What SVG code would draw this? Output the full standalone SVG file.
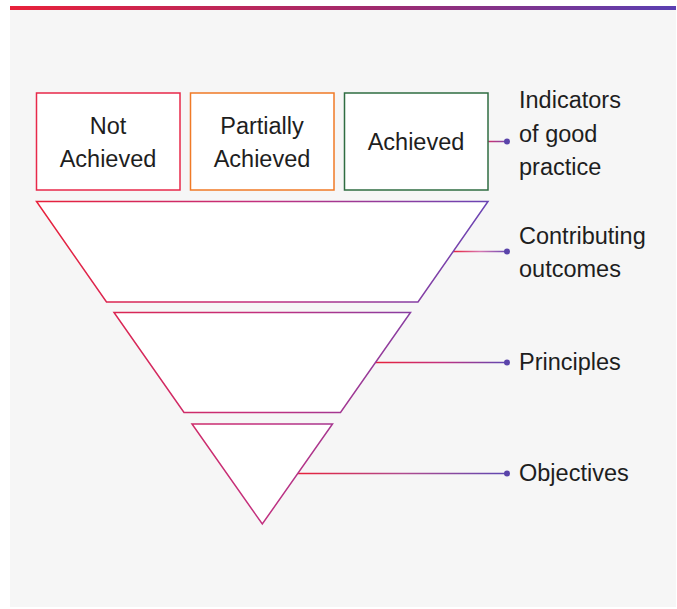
<svg xmlns="http://www.w3.org/2000/svg" width="677" height="609" viewBox="0 0 677 609">
  <defs>
    <linearGradient id="topbar" x1="10" y1="0" x2="676" y2="0" gradientUnits="userSpaceOnUse">
      <stop offset="0" stop-color="#e8213a"/>
      <stop offset="0.55" stop-color="#a02a6e"/>
      <stop offset="1" stop-color="#5a3fb2"/>
    </linearGradient>
    <linearGradient id="shapeStroke" x1="36" y1="0" x2="488" y2="0" gradientUnits="userSpaceOnUse">
      <stop offset="0" stop-color="#e8213a"/>
      <stop offset="0.5" stop-color="#c2307f"/>
      <stop offset="1" stop-color="#6a45b4"/>
    </linearGradient>
    <linearGradient id="c0" x1="488" y1="0" x2="507" y2="0" gradientUnits="userSpaceOnUse">
      <stop offset="0" stop-color="#d0306e"/>
      <stop offset="1" stop-color="#7a4ab0"/>
    </linearGradient>
    <linearGradient id="c1" x1="453" y1="0" x2="507" y2="0" gradientUnits="userSpaceOnUse">
      <stop offset="0" stop-color="#e8213a"/>
      <stop offset="0.5" stop-color="#d877b0"/>
      <stop offset="1" stop-color="#6a4ab4"/>
    </linearGradient>
    <linearGradient id="c2" x1="376" y1="0" x2="507" y2="0" gradientUnits="userSpaceOnUse">
      <stop offset="0" stop-color="#e8213a"/>
      <stop offset="0.5" stop-color="#c2307f"/>
      <stop offset="1" stop-color="#5e48b2"/>
    </linearGradient>
    <linearGradient id="c3" x1="298" y1="0" x2="507" y2="0" gradientUnits="userSpaceOnUse">
      <stop offset="0" stop-color="#e8213a"/>
      <stop offset="0.5" stop-color="#b04a8e"/>
      <stop offset="1" stop-color="#5e48b2"/>
    </linearGradient>
    <style>
      .box { fill: #ffffff; stroke-width: 1.5; }
      .layer { fill: #ffffff; stroke: url(#shapeStroke); stroke-width: 1.5; stroke-linejoin: miter; }
      .t { font-family: "Liberation Sans", Arial, Helvetica, sans-serif; font-size: 23.5px; fill: #1e1e1e; }
      .c { text-anchor: middle; }
      .dot { fill: #5a44aa; }
      .conn { stroke-width: 1.5; fill: none; }
    </style>
  </defs>

  <rect x="0" y="0" width="677" height="609" fill="#ffffff"/>
  <rect x="10" y="10" width="666" height="597" fill="#f6f6f6"/>
  <rect x="10" y="6" width="666" height="4" fill="url(#topbar)"/>

  <g id="connectors">
    <line class="conn" x1="488" y1="141.5" x2="507" y2="141.5" stroke="url(#c0)"/>
    <line class="conn" x1="453" y1="251.5" x2="507" y2="251.5" stroke="url(#c1)"/>
    <line class="conn" x1="376" y1="362.5" x2="507" y2="362.5" stroke="url(#c2)"/>
    <line class="conn" x1="298" y1="473.5" x2="507" y2="473.5" stroke="url(#c3)"/>
    <circle class="dot" cx="507" cy="141.5" r="3"/>
    <circle class="dot" cx="507" cy="251.5" r="3"/>
    <circle class="dot" cx="507" cy="362.5" r="3"/>
    <circle class="dot" cx="507" cy="473.5" r="3"/>
  </g>

  <g id="not-achieved">
    <rect class="box" x="36.5" y="93" width="143.5" height="97" stroke="#e8294a"/>
    <text class="t c" x="108" y="133.5">Not</text>
    <text class="t c" x="108" y="166.5">Achieved</text>
  </g>
  <g id="partially-achieved">
    <rect class="box" x="190.5" y="93" width="143.5" height="97" stroke="#f07a26"/>
    <text class="t c" x="262" y="133.5">Partially</text>
    <text class="t c" x="262" y="166.5">Achieved</text>
  </g>
  <g id="achieved">
    <rect class="box" x="344.5" y="93" width="143.5" height="97" stroke="#2f6d42"/>
    <text class="t c" x="416" y="150">Achieved</text>
  </g>

  <g id="contributing-outcomes-layer">
    <polygon class="layer" points="36.5,201.5 488,201.5 418,302 106.5,302"/>
  </g>
  <g id="principles-layer">
    <polygon class="layer" points="114,312.5 410.5,312.5 340.5,412.5 184,412.5"/>
  </g>
  <g id="objectives-layer">
    <polygon class="layer" points="192,424 332.5,424 262.3,524"/>
  </g>

  <g id="label-indicators">
    <text class="t" x="519" y="108">Indicators</text>
    <text class="t" x="519" y="141.5">of good</text>
    <text class="t" x="519" y="175">practice</text>
  </g>
  <g id="label-contributing">
    <text class="t" x="519" y="243.5">Contributing</text>
    <text class="t" x="519" y="277">outcomes</text>
  </g>
  <g id="label-principles">
    <text class="t" x="519" y="370">Principles</text>
  </g>
  <g id="label-objectives">
    <text class="t" x="519" y="481">Objectives</text>
  </g>
</svg>
